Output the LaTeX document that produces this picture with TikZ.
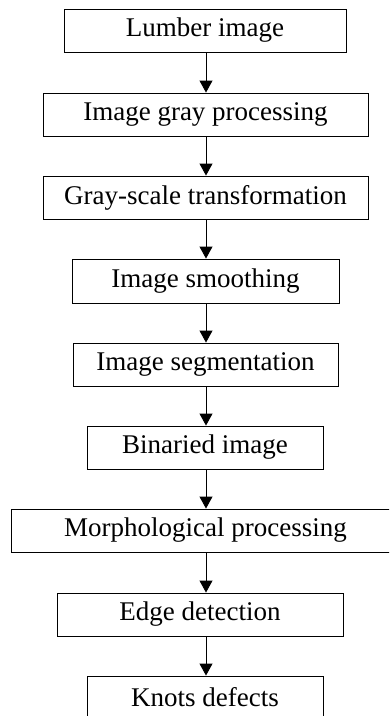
\documentclass[tikz,border=0pt]{standalone}
\usepackage{fontspec}
\setmainfont{Liberation Serif}
\usetikzlibrary{arrows.meta}
\begin{document}
\begin{tikzpicture}[x=1pt,y=-1pt,
  stepbox/.style={draw=black,line width=0.9pt,inner sep=0pt,minimum height=43pt,font=\fontsize{27}{30}\selectfont,text=black},
  arr/.style={-{Triangle[width=13pt,length=12pt]},line width=0.9pt}]
\useasboundingbox (0,0) rectangle (389,716);
\begin{scope}
\clip (0,0) rectangle (389,716);
\node[stepbox,minimum width=282pt] (b1) at (205,30.5) {Lumber image};
\node[stepbox,minimum width=325pt] (b2) at (205.5,114.5) {Image gray processing};
\node[stepbox,minimum width=325pt] (b3) at (205.5,197.5) {Gray-scale transformation};
\node[stepbox,minimum width=267pt,minimum height=44pt] (b4) at (205.5,281) {Image smoothing};
\node[stepbox,minimum width=265pt] (b5) at (205.5,364.5) {Image segmentation};
\node[stepbox,minimum width=236pt] (b6) at (205,447.5) {Binaried image};
\node[stepbox,minimum width=389pt] (b7) at (205.5,530.5) {Morphological processing};
\node[stepbox,minimum width=286pt] (b8) at (200,614.5) {Edge detection};
\node[stepbox,minimum width=236pt] (b9) at (205,697.5) {Knots defects};
\coordinate (ax) at (206,0);
\draw[arr] (b1.south -| ax) -- (b2.north -| ax);
\draw[arr] (b2.south -| ax) -- (b3.north -| ax);
\draw[arr] (b3.south -| ax) -- (b4.north -| ax);
\draw[arr] (b4.south -| ax) -- (b5.north -| ax);
\draw[arr] (b5.south -| ax) -- (b6.north -| ax);
\draw[arr] (b6.south -| ax) -- (b7.north -| ax);
\draw[arr] (b7.south -| ax) -- (b8.north -| ax);
\draw[arr] (b8.south -| ax) -- (b9.north -| ax);
\end{scope}
\end{tikzpicture}
\end{document}
